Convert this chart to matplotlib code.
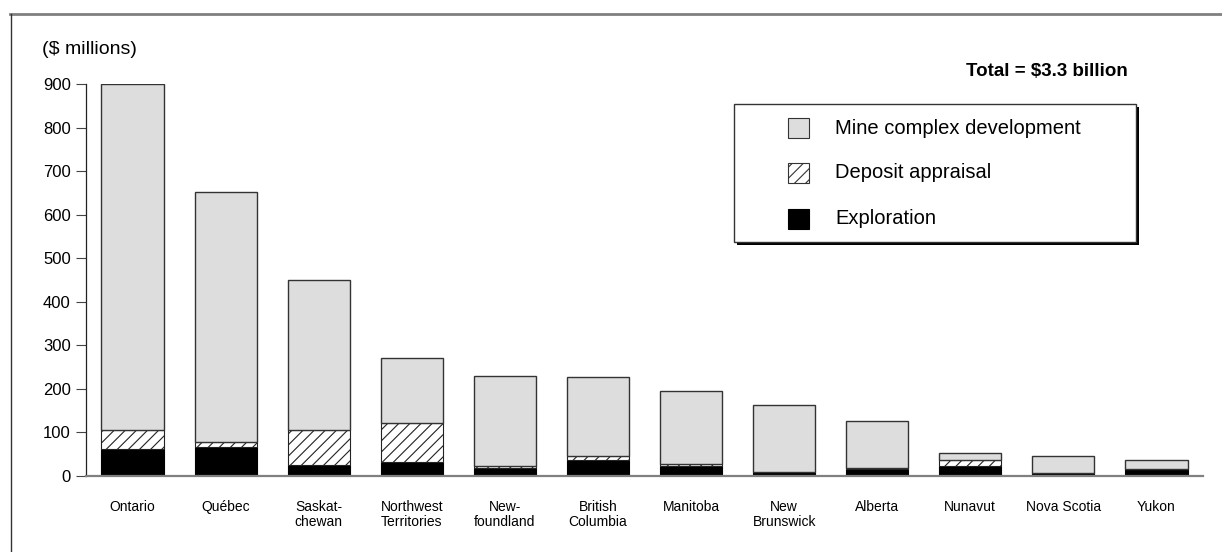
import numpy as np
import matplotlib
matplotlib.use("Agg")
import matplotlib.pyplot as plt
from matplotlib.patches import Rectangle
from matplotlib.lines import Line2D

plt.rcParams['font.family'] = ['Liberation Sans', 'DejaVu Sans']
plt.rcParams['hatch.linewidth'] = 0.8

provinces = ["Ontario", "Québec", "Saskat-\nchewan", "Northwest\nTerritories",
             "New-\nfoundland", "British\nColumbia", "Manitoba", "New\nBrunswick",
             "Alberta", "Nunavut", "Nova Scotia", "Yukon"]
exploration = [62, 67, 25, 31, 19, 36, 23, 10, 16, 23, 6, 15]
appraisal = [43, 11, 80, 90, 4, 11, 4, 0, 3, 14, 0, 0]
mine_dev = [795, 574, 345, 150, 207, 180, 169, 152, 108, 15, 41, 21]
series_names = ["Mine complex development", "Deposit appraisal", "Exploration"]

W, H = 1222, 552
fig = plt.figure(figsize=(W / 100, H / 100), dpi=100)

def fx(px):
    return px / W

def fy(py):
    return 1 - py / H

ax = fig.add_axes([fx(86), fy(476), fx(1203) - fx(86), fy(84) - fy(476)])

x = np.arange(len(provinces))
expl = np.array(exploration)
appr = np.array(appraisal)
mine = np.array(mine_dev)
bw = 0.667

ax.bar(x, expl, bw, color="black", edgecolor="black", linewidth=0.8)
ax.bar(x, appr, bw, bottom=expl, color="white", edgecolor="#222222",
       hatch="///", linewidth=0.8)
ax.bar(x, mine, bw, bottom=expl + appr, color="#dddddd", edgecolor="#333333",
       linewidth=1.0)

ax.set_xlim(-0.5, len(provinces) - 0.5)
ax.set_ylim(0, 900)
ax.set_yticks(range(0, 901, 100))
ax.set_xticks(x)
ax.set_xticklabels(provinces, fontsize=10, linespacing=1.1)
ax.tick_params(axis="x", length=0, pad=17)
ax.tick_params(axis="y", length=7, width=0.8, color="#444444", labelsize=12, pad=4)
for s in ["top", "right"]:
    ax.spines[s].set_visible(False)
ax.spines["left"].set_color("#222222")
ax.spines["left"].set_linewidth(0.9)
ax.spines["bottom"].set_color("#808080")
ax.spines["bottom"].set_linewidth(1.6)

# outer frame (top and left edges)
fig.add_artist(Line2D([fx(10), 1], [fy(14), fy(14)], color="#808080", lw=2))
fig.add_artist(Line2D([fx(11), fx(11)], [fy(14), 0], color="#333333", lw=1))

fig.text(fx(42), fy(49), "($ millions)", fontsize=14, va="center", ha="left")
fig.text(fx(1128), fy(72), "Total = $3.3 billion", fontsize=13.5,
         fontweight="bold", va="center", ha="right")

# legend box with drop shadow
bx0, by0, bx1, by1 = 734, 104, 1136, 242
fig.add_artist(Rectangle((fx(bx0 + 2.5), fy(by1 + 2.5)), fx(bx1) - fx(bx0),
                         fy(by0) - fy(by1), transform=fig.transFigure,
                         facecolor="black", edgecolor="none"))
fig.add_artist(Rectangle((fx(bx0), fy(by1)), fx(bx1) - fx(bx0),
                         fy(by0) - fy(by1), transform=fig.transFigure,
                         facecolor="white", edgecolor="#333333", lw=1))
styles = [dict(facecolor="#dddddd", edgecolor="#333333"),
          dict(facecolor="white", edgecolor="#333333", hatch="///"),
          dict(facecolor="black", edgecolor="black")]
rows = [128, 173, 219]
for name, st, yc in zip(series_names, styles, rows):
    fig.add_artist(Rectangle((fx(788), fy(yc + 10)), fx(809) - fx(788),
                             fy(yc - 10) - fy(yc + 10), transform=fig.transFigure,
                             lw=0.8, **st))
    fig.text(fx(835), fy(yc), name, fontsize=14.5, va="center", ha="left")

fig.savefig("out.png", dpi=100)
